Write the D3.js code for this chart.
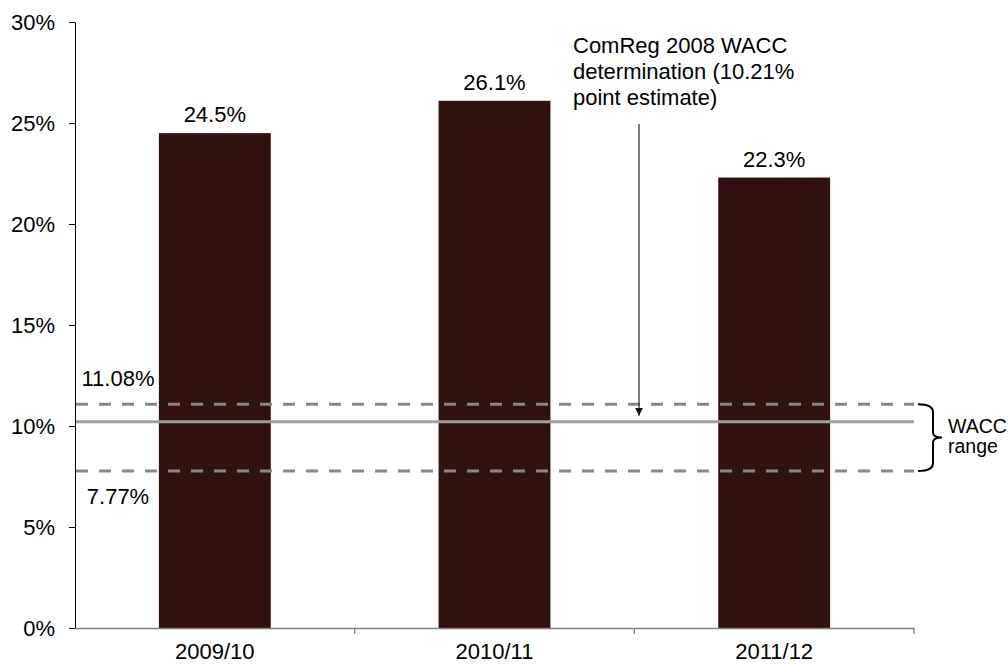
<!DOCTYPE html>
<html>
<head>
<meta charset="utf-8">
<script src="https://cdn.jsdelivr.net/npm/d3@7"></script>
<style>
  body { margin: 0; background: #fff; }
  text { font-family: "Liberation Sans", Arial, sans-serif; fill: #000; }
</style>
</head>
<body>
<div id="graph"></div>
<script>
// data
var years = ["2009/10", "2010/11", "2011/12"]
var returns = [0.245, 0.261, 0.223]
var barLabels = ["24.5%", "26.1%", "22.3%"]
var yTicks = [0, 0.05, 0.10, 0.15, 0.20, 0.25, 0.30]
var waccHigh = 0.1108
var waccPoint = 0.1021
var waccLow = 0.0777
var noteLines = ["ComReg 2008 WACC", "determination (10.21%", "point estimate)"]
var rangeLines = ["WACC", "range"]

var width = 1008
var height = 664
// plot edges (window.top is reserved, so keep these prefixed)
var plotLeft = 75, plotRight = 914, plotTop = 22, plotBottom = 628

var svg = d3.select("#graph").append("svg")
    .attr("width", width)
    .attr("height", height)

var defs = svg.append("defs")
defs.append("marker")
    .attr("id", "arrow")
    .attr("viewBox", "0 0 10 10")
    .attr("refX", 10)
    .attr("refY", 5)
    .attr("markerWidth", 8)
    .attr("markerHeight", 8)
    .attr("markerUnits", "userSpaceOnUse")
    .attr("orient", "auto")
  .append("path")
    .attr("d", "M0,0 L10,5 L0,10 Z")
    .attr("fill", "#111")

var x = d3.scaleBand()
    .domain(years)
    .range([plotLeft, plotRight])
    .paddingInner(0.6)
    .paddingOuter(0.3)

var y = d3.scaleLinear()
    .domain([0, 0.30])
    .range([plotBottom, plotTop])

// bars
svg.selectAll(".bar")
    .data(returns)
    .enter().append("rect")
    .attr("class", "bar")
    .attr("x", function (d, i) { return x(years[i]) })
    .attr("y", function (d) { return y(d) })
    .attr("width", x.bandwidth())
    .attr("height", function (d) { return y(0) - y(d) })
    .attr("fill", "#32120e")

// value labels above the bars
svg.selectAll(".barlabel")
    .data(returns)
    .enter().append("text")
    .attr("class", "barlabel")
    .attr("x", function (d, i) { return x(years[i]) + x.bandwidth() / 2 })
    .attr("y", function (d) { return y(d) - 11 })
    .attr("text-anchor", "middle")
    .style("font-size", "22px")
    .text(function (d, i) { return barLabels[i] })

// y axis
var yAxis = svg.append("g")
    .attr("transform", "translate(" + plotLeft + ",0)")
    .call(d3.axisLeft(y)
        .tickValues(yTicks)
        .tickFormat(d3.format(".0%"))
        .tickSize(6)
        .tickSizeOuter(0)
        .tickPadding(14))
yAxis.select(".domain").attr("stroke", "#000")
yAxis.selectAll(".tick line").attr("stroke", "#000")
yAxis.selectAll(".tick text")
    .style("font-size", "22px")
    .style("font-family", "'Liberation Sans', Arial, sans-serif")
    .attr("fill", "#000")

// x axis: labels at band centres, ticks at band boundaries
var step = x.step()
var boundaries = years.map(function (c) { return x(c) - x.paddingInner() * step / 2 })
boundaries.push(plotRight)
boundaries.shift()

var xAxis = svg.append("g")
    .attr("transform", "translate(0," + plotBottom + ")")
    .call(d3.axisBottom(x).tickSize(0).tickSizeOuter(0).tickPadding(15))
xAxis.select(".domain").attr("stroke", "#808080").attr("stroke-width", 1.3)
xAxis.selectAll(".tick text")
    .style("font-size", "22px")
    .style("font-family", "'Liberation Sans', Arial, sans-serif")
    .attr("fill", "#000")

xAxis.selectAll(".bound")
    .data(boundaries)
    .enter().append("line")
    .attr("class", "bound")
    .attr("x1", function (d) { return d })
    .attr("x2", function (d) { return d })
    .attr("y1", 0)
    .attr("y2", 6)
    .attr("stroke", "#808080")
    .attr("stroke-width", 1.3)

// WACC lines
svg.append("line")
    .attr("x1", plotLeft + 1).attr("x2", plotRight)
    .attr("y1", y(waccPoint)).attr("y2", y(waccPoint))
    .attr("stroke", "#9d9da4")
    .attr("stroke-width", 3)

;[waccHigh, waccLow].forEach(function (v) {
    svg.append("line")
        .attr("x1", plotLeft + 1).attr("x2", plotRight)
        .attr("y1", y(v)).attr("y2", y(v))
        .attr("stroke", "#878787")
        .attr("stroke-width", 3)
        .attr("stroke-dasharray", "12,11")
})

svg.append("text")
    .attr("x", 118).attr("y", y(waccHigh) - 18)
    .attr("text-anchor", "middle")
    .style("font-size", "22px")
    .text(d3.format(".2%")(waccHigh))

svg.append("text")
    .attr("x", 118).attr("y", y(waccLow) + 33)
    .attr("text-anchor", "middle")
    .style("font-size", "22px")
    .text(d3.format(".2%")(waccLow))

// annotation with arrow
var note = svg.append("text")
    .attr("x", 573).attr("y", 53)
    .style("font-size", "22px")
note.selectAll("tspan")
    .data(noteLines)
    .enter().append("tspan")
    .attr("x", 573)
    .attr("dy", function (d, i) { return i == 0 ? 0 : 26 })
    .text(function (d) { return d })

svg.append("line")
    .attr("x1", 639).attr("x2", 639)
    .attr("y1", 124).attr("y2", y(waccPoint) - 6)
    .attr("stroke", "#333")
    .attr("stroke-width", 1.3)
    .attr("marker-end", "url(#arrow)")

// curly bracket for the range
var yTop = y(waccHigh), yBot = y(waccLow), yMid = (yTop + yBot) / 2
var brace = "M918," + yTop +
    " Q933," + yTop + " 933," + (yTop + 8) +
    " L933," + (yMid - 5) +
    " Q933," + yMid + " 942," + yMid +
    " Q933," + yMid + " 933," + (yMid + 5) +
    " L933," + (yBot - 8) +
    " Q933," + yBot + " 918," + yBot
svg.append("path")
    .attr("d", brace)
    .attr("fill", "none")
    .attr("stroke", "#000")
    .attr("stroke-width", 2)

var rng = svg.append("text")
    .attr("x", 948).attr("y", 433)
    .style("font-size", "19.5px")
rng.selectAll("tspan")
    .data(rangeLines)
    .enter().append("tspan")
    .attr("x", 948)
    .attr("dy", function (d, i) { return i == 0 ? 0 : 20 })
    .text(function (d) { return d })
</script>
</body>
</html>
